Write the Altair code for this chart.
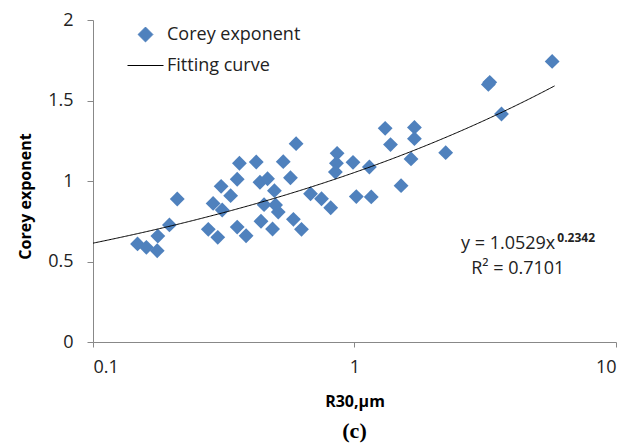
import altair as alt
import pandas as pd

# Data
r30 = [0.148, 0.160, 0.176, 0.177, 0.196, 0.210, 0.276, 0.288, 0.300, 0.312,
       0.309, 0.336, 0.356, 0.356, 0.363, 0.385, 0.421, 0.435, 0.465, 0.439,
       0.451, 0.486, 0.494, 0.499, 0.511, 0.534, 0.569, 0.584, 0.598, 0.627,
       0.679, 0.748, 0.811, 0.858, 0.853, 0.845, 0.987, 1.140, 1.016, 1.159,
       1.507, 1.310, 1.373, 1.695, 1.695, 1.645, 2.232, 3.290, 3.250, 3.648, 5.70]
corey = [0.609, 0.588, 0.567, 0.658, 0.727, 0.888, 0.700, 0.861, 0.650, 0.820,
         0.967, 0.909, 0.714, 1.011, 1.110, 0.660, 1.118, 0.992, 1.014, 0.750,
         0.853, 0.702, 0.940, 0.851, 0.807, 1.120, 1.020, 0.762, 1.232, 0.700,
         0.921, 0.890, 0.834, 1.172, 1.110, 1.056, 1.116, 1.087, 0.903, 0.901,
         0.971, 1.327, 1.226, 1.333, 1.263, 1.137, 1.176, 1.613, 1.600, 1.416, 1.743]

series_names = ["Corey exponent", "Fitting curve"]
series_colors = ["#4F81BD", "#000000"]
x_ticks = [0.1, 1, 10]
y_ticks = [0, 0.5, 1, 1.5, 2]

# Fitted power law printed on the chart: y = 1.0529 x^0.2342 (R² = 0.7101)
fit_a = 1.0529
fit_b = 0.2342
fit_log10_range = [-1.0, 0.765]   # fitted line spans x = 0.1 ... ~5.8

eq_main = "y = 1.0529x"
eq_sup = "0.2342"
r2_text = "R\u00b2 = 0.7101"

df = pd.DataFrame({"r30": r30, "corey": corey, "series": series_names[0]})

FONT = "Open Sans"

xenc = alt.X("r30:Q",
             scale=alt.Scale(type="log", domain=[0.1, 10]),
             axis=alt.Axis(values=x_ticks, format="~g", title="R30,\u03bcm",
                           grid=False, tickSize=5, labelPadding=11,
                           titlePadding=17))
yenc = alt.Y("corey:Q",
             scale=alt.Scale(domain=[0, 2]),
             axis=alt.Axis(values=y_ticks, format="~g", title="Corey exponent",
                           grid=False, tickSize=6, labelPadding=14,
                           titlePadding=14, titleY=176))

leg = alt.Legend(title=None, orient="none", legendX=34, legendY=0,
                 clipHeight=29, rowPadding=2, labelOffset=3,
                 labelFontSize=18, labelColor="#222", labelFont=FONT,
                 symbolStrokeWidth=1, symbolOpacity=1)

points = alt.Chart(df).mark_point(filled=True, opacity=1).encode(
    x=xenc, y=yenc,
    color=alt.Color("series:N", scale=alt.Scale(domain=series_names, range=series_colors), legend=leg),
    shape=alt.Shape("series:N", scale=alt.Scale(domain=series_names, range=["diamond", "stroke"]), legend=leg),
    size=alt.Size("series:N", scale=alt.Scale(domain=series_names, range=[220, 1296]), legend=leg),
)

fit = alt.Chart(
    alt.sequence(start=fit_log10_range[0], stop=fit_log10_range[1] + 0.001, step=0.005, as_="lx")
).transform_calculate(
    r30="pow(10, datum.lx)",
    corey=f"{fit_a} * pow(pow(10, datum.lx), {fit_b})",
    series="'Fitting curve'",
).mark_line(strokeWidth=1).encode(
    x="r30:Q", y="corey:Q",
    color=alt.Color("series:N", legend=leg),
)

ann_df = pd.DataFrame({"x": [5.86], "y": [0.607], "x2": [4.21], "y2": [0.452]})
eq1 = alt.Chart(ann_df).mark_text(align="right", baseline="middle", fontSize=18,
                                  font=FONT, color="#222").encode(
    x="x:Q", y="y:Q", text=alt.value(eq_main))
eq2 = alt.Chart(ann_df).mark_text(align="left", baseline="middle", fontSize=12,
                                  font=FONT, fontWeight="bold", color="#222",
                                  dx=2, dy=-6).encode(
    x="x:Q", y="y:Q", text=alt.value(eq_sup))
eq3 = alt.Chart(ann_df).mark_text(align="center", baseline="middle", fontSize=18,
                                  font=FONT, color="#222").encode(
    x="x2:Q", y="y2:Q", text=alt.value(r2_text))

chart = alt.layer(points, fit, eq1, eq2, eq3).properties(
    width=523, height=322,
    autosize=alt.AutoSizeParams(type="none"),
    padding={"left": 93, "top": 20, "right": 25, "bottom": 104},
    title=alt.TitleParams("(c)", orient="bottom", font="Liberation Serif",
                          fontSize=22, fontWeight="bold", color="#000",
                          offset=12, anchor="middle"),
).configure_view(stroke=None).configure_axis(
    domainColor="#888", tickColor="#888", labelFont=FONT, labelFontSize=18,
    labelColor="#222", titleFont=FONT, titleFontSize=16, titleFontWeight="bold",
    titleColor="#000",
)

chart.save("out.html", embed_options={"renderer": "svg", "actions": False})
